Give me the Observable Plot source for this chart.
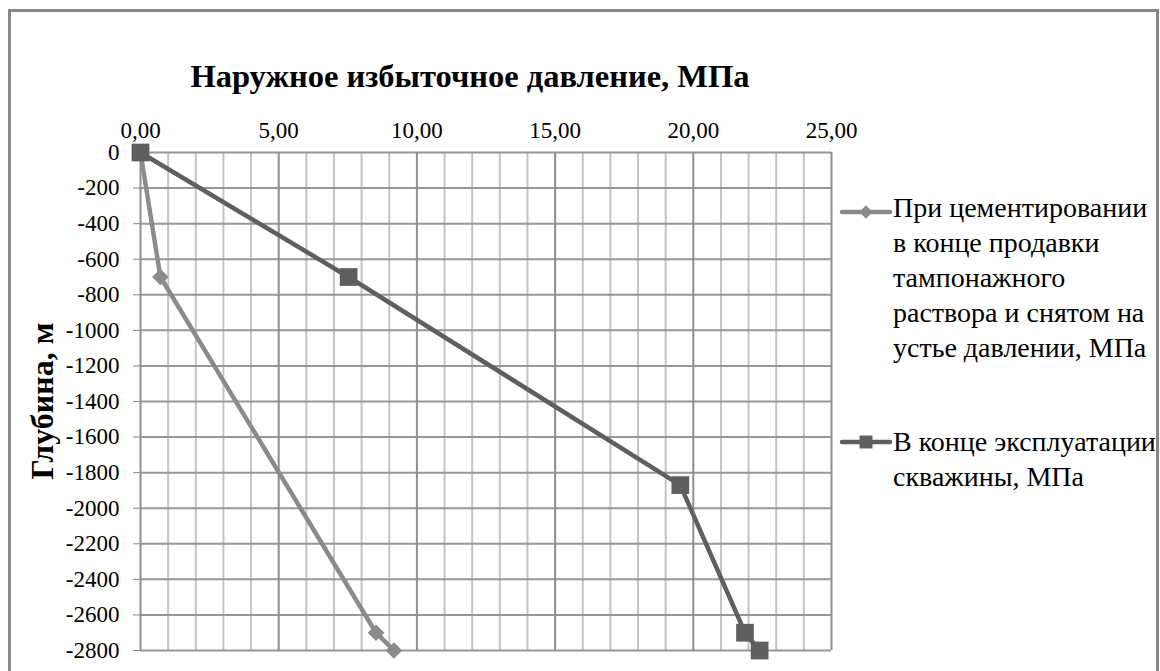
<!DOCTYPE html>
<html><head><meta charset="utf-8">
<script src="https://cdn.jsdelivr.net/npm/d3@7"></script>
<script src="https://cdn.jsdelivr.net/npm/@observablehq/plot@0.6"></script>
<style>
body{margin:0;background:#fff;}
#wrap{position:relative;width:1160px;height:671px;overflow:hidden;font-family:"Liberation Serif","Times New Roman",serif;color:#000;}
#border{position:absolute;left:8px;top:9px;width:1151px;height:720px;border:3px solid #878787;box-sizing:border-box;pointer-events:none;}
#chart{position:absolute;left:0;top:0;}
#title{position:absolute;top:57px;left:120px;width:700px;text-align:center;font-weight:bold;font-size:32.5px;line-height:38px;white-space:nowrap;}
#ytitle{position:absolute;left:42px;top:401px;transform:translate(-50%,-50%) rotate(-90deg);font-weight:bold;font-size:32px;line-height:38px;white-space:nowrap;}
.leg{position:absolute;left:893px;font-family:"Liberation Serif","Times New Roman",serif;font-size:28px;line-height:35px;white-space:nowrap;}
.sw{position:absolute;left:838px;}
</style>
</head><body>
<div id="wrap">
  <div id="chart"></div>
  <div id="title"></div>
  <div id="ytitle"></div>
  <svg class="sw" id="sw1" width="56" height="24" style="top:200px"></svg>
  <div class="leg" id="leg1" style="top:190px"></div>
  <svg class="sw" id="sw2" width="56" height="24" style="top:430px"></svg>
  <div class="leg" id="leg2" style="top:424px"></div>
  <div id="border"></div>
</div>
<script>
// ---- data ----
const titleText = "Наружное избыточное давление, МПа";
const yTitleText = "Глубина, м";
const series1Name = ["При цементировании", "в конце продавки", "тампонажного", "раствора и снятом на", "устье давлении, МПа"];
const series2Name = ["В конце эксплуатации", "скважины, МПа"];
const depth1 = [0, -700, -2700, -2800];
const press1 = [0, 0.72, 8.52, 9.17];
const depth2 = [0, -700, -1870, -2700, -2800];
const press2 = [0, 7.53, 19.53, 21.87, 22.4];
const xTicks = [0, 5, 10, 15, 20, 25];
const yTicks = [0, -200, -400, -600, -800, -1000, -1200, -1400, -1600, -1800, -2000, -2200, -2400, -2600, -2800];

const color1 = "#8b8b8b";
const color2 = "#5f5f5f";

const data1 = depth1.map((d, i) => ({x: press1[i], y: d}));
const data2 = depth2.map((d, i) => ({x: press2[i], y: d}));
const minorX = d3.range(0, 26, 1).filter(d => d % 5 !== 0);

const chart = Plot.plot({
  width: 1160,
  height: 671,
  marginLeft: 140,
  marginRight: 329,
  marginTop: 152,
  marginBottom: 21,
  style: {fontFamily: "Liberation Serif, Times New Roman, serif", fontSize: "23px", background: "transparent"},
  x: {domain: [0, 25]},
  y: {domain: [-2800, 0]},
  marks: [
    Plot.ruleX(minorX, {stroke: "#c4c4c4", strokeWidth: 2}),
    Plot.ruleY(yTicks, {stroke: "#979797", strokeWidth: 2}),
    Plot.ruleX(xTicks, {stroke: "#8f8f8f", strokeWidth: 2}),
    Plot.axisX({anchor: "top", ticks: xTicks, tickSize: 0, tickPadding: 15, label: null,
      tickFormat: d => d.toFixed(2).replace(".", ",")}),
    Plot.axisY({ticks: yTicks, tickSize: 7, tickPadding: 14, label: null, stroke: "#888",
      tickFormat: d => String(d)}),
    Plot.line(data1, {x: "x", y: "y", stroke: color1, strokeWidth: 4.5}),
    Plot.dot(data1, {x: "x", y: "y", symbol: "diamond2", r: 7.5, fill: color1, stroke: "none"}),
    Plot.line(data2, {x: "x", y: "y", stroke: color2, strokeWidth: 4.5}),
    Plot.dot(data2, {x: "x", y: "y", symbol: "square", r: 10, fill: color2, stroke: "none"})
  ]
});
document.getElementById("chart").appendChild(chart);

document.getElementById("title").textContent = titleText;
document.getElementById("ytitle").textContent = yTitleText;
document.getElementById("leg1").innerHTML = series1Name.join("<br>");
document.getElementById("leg2").innerHTML = series2Name.join("<br>");

function swatch(id, col, sym, r) {
  const s = d3.select("#" + id);
  s.append("line").attr("x1", 4).attr("x2", 52).attr("y1", 12).attr("y2", 12)
    .attr("stroke", col).attr("stroke-width", 4.5).attr("stroke-linecap", "round");
  s.append("path").attr("transform", "translate(28,12)")
    .attr("d", d3.symbol(sym, Math.PI * r * r)()).attr("fill", col);
}
swatch("sw1", color1, d3.symbolDiamond2, 6);
swatch("sw2", color2, d3.symbolSquare, 7.3);
</script>
</body></html>
